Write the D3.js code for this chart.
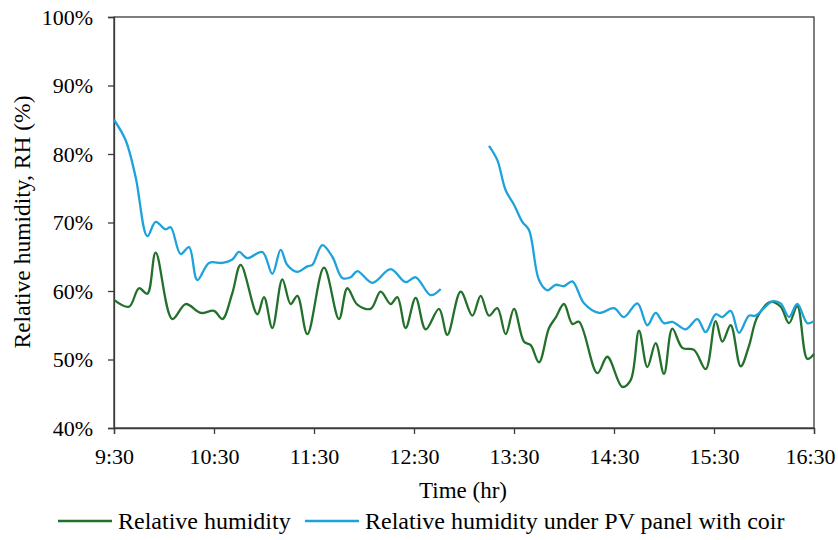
<!DOCTYPE html>
<html><head><meta charset="utf-8">
<script src="https://cdn.jsdelivr.net/npm/d3@7"></script>
<style>body{margin:0;background:#fff}</style>
</head><body><svg id="c" width="838" height="540"></svg>
<script>
const xTickLabels = ["9:30","10:30","11:30","12:30","13:30","14:30","15:30","16:30"];
const yTicks = [40,50,60,70,80,90,100];
const greenTimes = ["9:30","9:39","9:45","9:50","9:55","10:05","10:13","10:22","10:30","10:35","10:41","10:46","10:56","11:00","11:05","11:11","11:16","11:20","11:26","11:36","11:45","11:50","11:56","12:04","12:10","12:16","12:20","12:25","12:31","12:37","12:45","12:50","12:58","13:05","13:10","13:15","13:20","13:25","13:30","13:36","13:40","13:45","13:51","13:55","14:00","14:05","14:09","14:20","14:26","14:35","14:40","14:45","14:50","14:55","15:00","15:05","15:11","15:18","15:25","15:31","15:35","15:40","15:46","15:51","15:56","16:04","16:10","16:15","16:20","16:26","16:30"];
const greenValues = [58.7,57.7,60.4,59.6,65.6,55.9,58.1,56.8,57.1,55.9,59.7,63.8,56.6,59.1,54.6,61.7,58.1,59.3,53.7,63.4,55.9,60.4,58.0,57.4,59.9,58.1,59.1,54.6,59.0,54.4,57.4,53.6,59.9,56.4,59.3,56.4,57.5,53.7,57.4,52.6,52.1,49.6,54.6,56.1,58.1,55.2,55.5,48.0,50.4,46.0,47.0,54.2,48.9,52.4,47.9,54.5,51.7,51.4,48.6,55.6,52.6,55.0,49.0,52.0,56.2,58.4,57.7,55.3,57.8,50.1,50.8];
const blueTimes = ["9:30","9:37","9:43","9:50","9:55","10:01","10:04","10:10","10:15","10:20","10:27","10:35","10:41","10:45","10:50","10:59","11:05","11:10","11:14","11:20","11:26","11:29","11:35","11:41","11:47","11:52","11:56","12:05","12:16","12:25","12:31","12:40","12:46","13:00","13:15","13:20","13:25","13:30","13:35","13:39","13:45","13:50","13:55","14:00","14:05","14:12","14:21","14:30","14:36","14:44","14:50","14:55","15:00","15:05","15:13","15:20","15:25","15:31","15:35","15:40","15:45","15:51","15:55","16:05","16:10","16:15","16:20","16:26","16:30"];
const blueValues = [85.0,82.0,76.6,68.0,70.1,69.0,69.3,65.4,66.4,61.6,64.1,64.1,64.6,65.7,64.8,65.7,62.5,66.0,63.8,62.8,63.6,63.8,66.7,65.0,61.9,62.0,62.9,61.2,63.2,61.3,62.0,59.4,60.3,null,81.2,79.1,74.7,72.6,70.1,68.9,61.6,60.1,60.9,60.7,61.4,58.2,56.8,57.5,56.2,58.2,55.0,56.8,55.3,55.5,54.4,55.9,54.0,56.6,56.2,57.1,53.9,56.4,56.4,58.5,58.2,56.2,58.1,55.3,55.6];
const seriesNames = ["Relative humidity","Relative humidity under PV panel with coir"];
const colors = ["#23702b","#1ea2dc"];

const FONT = '"Liberation Serif","Times New Roman",serif';
const toMin = s => { const [h,m] = s.split(":").map(Number); return h*60+m; };
const svg = d3.select("#c");
const L=114, R=814, T=17, B=428;
const x = d3.scaleLinear().domain([toMin("9:30"), toMin("16:30")]).range([L,R]);
const y = d3.scaleLinear().domain([40,100]).range([B,T]);
const axisColor = "#3a3a3a";

const g = svg.append("g");
g.append("rect").attr("x",L).attr("y",T).attr("width",R-L).attr("height",B-T).attr("fill","none").attr("stroke",axisColor).attr("stroke-width",1.3);

const fs = 22;
const xAxis = d3.axisBottom(x).tickValues(xTickLabels.map(toMin)).tickFormat((d,i)=>xTickLabels[i]).tickSizeOuter(0).tickSize(6).tickPadding(14);
const xa = g.append("g").attr("transform",`translate(0,${B})`).call(xAxis);
const yAxis = d3.axisLeft(y).tickValues(yTicks).tickFormat(d=>d+"%").tickSizeOuter(0).tickSize(6).tickPadding(15);
const ya = g.append("g").attr("transform",`translate(${L},0)`).call(yAxis);
[xa,ya].forEach(a=>{
  a.select(".domain").attr("stroke",axisColor).attr("stroke-width",1.3);
  a.selectAll(".tick line").attr("stroke",axisColor).attr("stroke-width",1.3);
  a.selectAll("text").style("font-family",FONT).style("font-size",fs+"px").attr("fill","#000");
});
xa.selectAll(".tick:last-of-type text").attr("dx",-4);

const line = d3.line().defined(d=>d.v!=null).x(d=>x(d.t)).y(d=>y(d.v)).curve(d3.curveCatmullRom.alpha(0.5));
const gData = greenTimes.map((t,i)=>({t:toMin(t),v:greenValues[i]}));
const bData = blueTimes.map((t,i)=>({t:toMin(t),v:blueValues[i]}));
g.append("path").datum(gData).attr("d",line).attr("fill","none").attr("stroke",colors[0]).attr("stroke-width",2.3);
g.append("path").datum(bData).attr("d",line).attr("fill","none").attr("stroke",colors[1]).attr("stroke-width",2.3);

const txt = (sel)=>sel.style("font-family",FONT).attr("fill","#000");
txt(svg.append("text")).attr("transform","translate(30,222) rotate(-90)").attr("text-anchor","middle").style("font-size","23.5px").text("Relative humidity, RH (%)");
txt(svg.append("text")).attr("x",463).attr("y",498).attr("text-anchor","middle").style("font-size","23px").text("Time (hr)");

const leg = [{x:58, c:colors[0], t:seriesNames[0]},{x:305,c:colors[1],t:seriesNames[1]}];
leg.forEach(l=>{
  svg.append("line").attr("x1",l.x).attr("x2",l.x+54).attr("y1",521).attr("y2",521).attr("stroke",l.c).attr("stroke-width",2.3);
  txt(svg.append("text")).attr("x",l.x+60).attr("y",529).style("font-size","24px").text(l.t);
});
</script></body></html>
